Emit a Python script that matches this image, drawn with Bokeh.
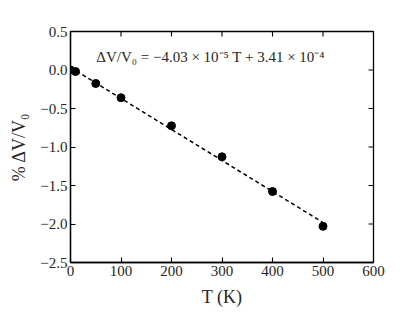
from bokeh.plotting import figure
from bokeh.models import FixedTicker, Range1d, Label, CustomJSTickFormatter
from bokeh.embed import file_html
from bokeh.resources import INLINE
import math

# data (percent volume change vs temperature)
T_data = [0, 10, 50, 100, 200, 300, 400, 500]
dV_data = [0.0, -0.02, -0.175, -0.36, -0.725, -1.127, -1.578, -2.03]

# linear fit: dV/V0 = slope*T + intercept (fractional) -> percent
slope = -4.03e-5
intercept = 3.41e-4
fit_T = [0, 500]
fit_dV = [100 * (slope * t + intercept) for t in fit_T]

x_ticks = [0, 100, 200, 300, 400, 500, 600]
y_ticks = [0.5, 0.0, -0.5, -1.0, -1.5, -2.0, -2.5]
x_min, x_max = 0, 600
y_min, y_max = -2.5, 0.5

FONT = "Liberation Serif"
TXT = "#262626"

p = figure(width=415, height=312, output_backend="svg", toolbar_location=None,
           x_range=Range1d(x_min, x_max), y_range=Range1d(y_min, y_max),
           min_border_left=70, min_border_right=42, min_border_top=31, min_border_bottom=50)
p.grid.visible = False
p.outline_line_color = "black"
p.outline_line_width = 1.3
p.background_fill_color = "white"
p.border_fill_color = "white"

fmt_y = CustomJSTickFormatter(code="return tick.toFixed(1).replace('-', '\u2212');")

p.xaxis.ticker = FixedTicker(ticks=x_ticks)
p.yaxis.ticker = FixedTicker(ticks=y_ticks)
p.yaxis.formatter = fmt_y

for ax in list(p.xaxis) + list(p.yaxis):
    ax.major_tick_in = 5
    ax.major_tick_out = 0
    ax.minor_tick_line_color = None
    ax.axis_line_width = 1.3
    ax.major_tick_line_width = 1.1
    ax.major_label_text_font = FONT
    ax.major_label_text_font_size = "15px"
    ax.major_label_text_color = TXT
    ax.axis_label_text_font = FONT
    ax.axis_label_text_font_size = "18px"
    ax.axis_label_text_font_style = "normal"
    ax.axis_label_text_color = TXT
    ax.major_label_standoff = 3

p.xaxis.axis_label = "T (K)"
p.yaxis.axis_label = "% \u0394V/V\u2080"
p.xaxis.axis_label_standoff = 8
p.yaxis.axis_label_standoff = 8

# ticks on the top and right edges (inward half of a dash centered on the frame edge)
p.scatter(x_ticks, [y_max] * len(x_ticks), marker="dash", angle=math.pi / 2, size=10,
          line_color="black", line_width=1.1)
p.scatter([x_max] * len(y_ticks), y_ticks, marker="dash", size=10,
          line_color="black", line_width=1.1)

p.line(fit_T, fit_dV, line_color="black", line_width=1.5, line_dash="4 3")
p.scatter(T_data, dV_data, size=8, fill_color="black", line_color="black")

eq = Label(x=51, y=0.175,
           text="\u0394V/V\u2080 = \u22124.03 \u00d7 10\u207b\u2075 T + 3.41 \u00d7 10\u207b\u2074",
           text_font=FONT, text_font_size="15px", text_color=TXT, text_baseline="middle")
p.add_layout(eq)

open("out.html", "w").write(file_html(p, INLINE))
